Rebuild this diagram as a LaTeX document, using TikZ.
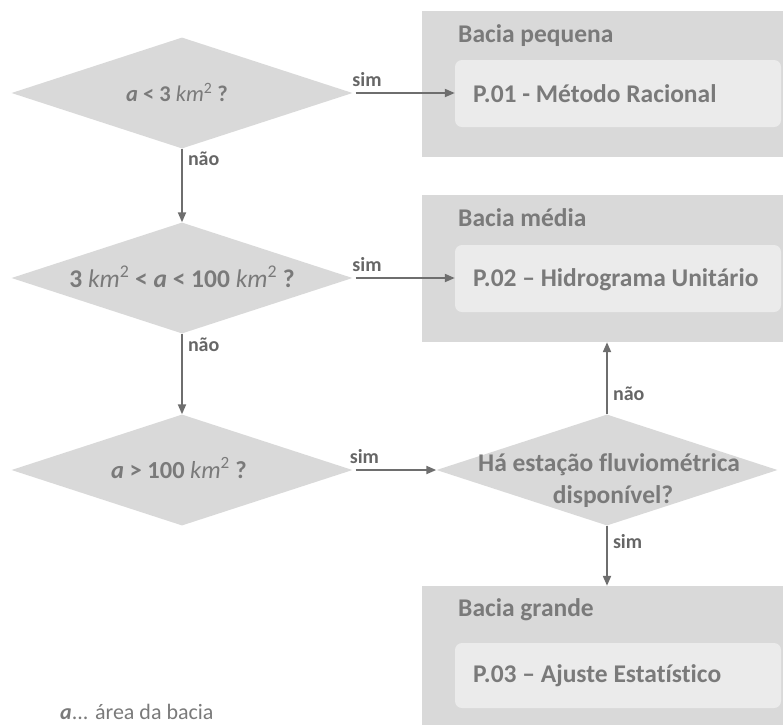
\documentclass[tikz,border=0pt]{standalone}
\usepackage{fontspec}
\setmainfont[Ligatures={NoCommon}]{Carlito}
\usetikzlibrary{shapes.geometric,arrows.meta}
\definecolor{dgray}{HTML}{D9D9D9}
\definecolor{lgray}{HTML}{EBEBEB}
\definecolor{tgray}{HTML}{7A7A7A}
\definecolor{agray}{HTML}{6E6E6E}
\definecolor{lblgray}{HTML}{666666}
\newcommand{\kmsq}{\textit{\mdseries km}\textsuperscript{\mdseries 2}}
\begin{document}
\begin{tikzpicture}[x=1pt,y=-1pt,
 dia/.style={diamond, fill=dgray, minimum width=341pt, minimum height=111pt, inner sep=0pt, aspect=3},
 dtext/.style={font=\fontsize{24}{31}\selectfont\bfseries, text=tgray, align=center, inner sep=0pt, anchor=base},
 outerbox/.style={rectangle, fill=dgray, inner sep=0pt},
 innerbox/.style={rectangle, rounded corners=7pt, fill=lgray, inner sep=0pt},
 titletext/.style={font=\fontsize{25.5}{30}\selectfont\bfseries, text=tgray, anchor=base west, inner sep=0pt},
 boxtext/.style={font=\fontsize{25.5}{30}\selectfont\bfseries, text=tgray, anchor=base west, inner sep=0pt},
 arr/.style={draw=agray, line width=2pt, -{Triangle[length=10pt,width=8pt]}},
 lbl/.style={font=\fontsize{20}{24}\selectfont\bfseries, text=lblgray, inner sep=2pt}
]
\useasboundingbox (0,0) rectangle (783,724);

% boxes
\node[outerbox, minimum width=361pt, minimum height=146pt] (b1) at (602.5,84) {};
\node[innerbox, minimum width=326pt, minimum height=67pt] (b1in) at (618,93.5) {};
\node[titletext] (b1t) at (458,42) {Bacia pequena};
\node[boxtext] (b1x) at (473,102) {P.01 - Método Racional};

\node[outerbox, minimum width=361pt, minimum height=147pt] (b2) at (602.5,268.5) {};
\node[innerbox, minimum width=326pt, minimum height=67pt] (b2in) at (618,278.5) {};
\node[titletext] (b2t) at (458,226) {Bacia média};
\node[boxtext] (b2x) at (473,286.5) {P.02 – Hidrograma Unitário};

\node[outerbox, minimum width=361pt, minimum height=140pt] (b3) at (602.5,656) {};
\node[innerbox, minimum width=326pt, minimum height=65pt] (b3in) at (618,675.5) {};
\node[titletext] (b3t) at (458,616) {Bacia grande};
\node[boxtext] (b3x) at (473,682) {P.03 – Ajuste Estatístico};

% diamonds
\node[dia] (d1) at (182,93) {};
\node[dtext, font=\fontsize{22.5}{28}\selectfont\bfseries] (d1t) at (177,101) {\textit{a} < 3 \kmsq\ ?};
\node[dia] (d2) at (182,278) {};
\node[dtext, font=\fontsize{25.5}{31}\selectfont\bfseries] (d2t) at (182,287) {3 \kmsq\ < \textit{a} < 100 \kmsq\ ?};
\node[dia] (d3) at (182,470) {};
\node[dtext, font=\fontsize{24.5}{30}\selectfont\bfseries] (d3t) at (179,478) {\textit{a} > 100 \kmsq\ ?};
\node[dia] (d4) at (607,470) {};
\node[dtext, font=\fontsize{25.5}{31}\selectfont\bfseries] (d4t1) at (609,471) {Há estação fluviométrica};
\node[dtext, font=\fontsize{25.5}{31}\selectfont\bfseries] (d4t2) at (613,503) {disponível?};

% connectors
\draw[arr, shorten <=3pt] (d1.east) -- node[lbl, above=3pt, pos=0.14] {sim} (b1in.west |- d1.east);
\draw[arr] (d1.south) -- node[lbl, right=3pt, pos=0.14] {não} (d2.north);
\draw[arr, shorten <=3pt] (d2.east) -- node[lbl, above=3pt, pos=0.14] {sim} (b2in.west |- d2.east);
\draw[arr] (d2.south) -- node[lbl, right=3pt, pos=0.14] {não} (d3.north);
\draw[arr, shorten <=3pt] (d3.east) -- node[lbl, above=3pt, pos=0.14] {sim} (d4.west);
\draw[arr] (d4.north) -- node[lbl, right=3pt, pos=0.28] {não} (d4.north |- b2.south);
\draw[arr] (d4.south) -- node[lbl, right=3pt, pos=0.26] {sim} (d4.south |- b3.north);

% legend
\node[font=\fontsize{22}{26}\selectfont, text=tgray, anchor=base west, inner sep=0pt] (leg) at (60,719) {\textbf{\textit{a}}... área da bacia};
\end{tikzpicture}
\end{document}
